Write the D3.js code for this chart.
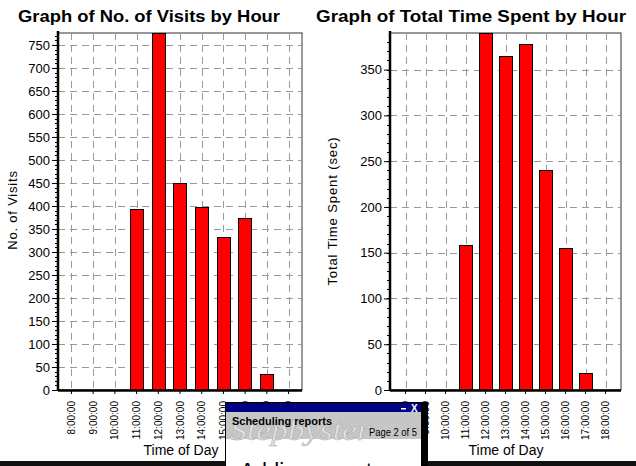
<!DOCTYPE html>
<html><head><meta charset="utf-8">
<script src="https://cdn.jsdelivr.net/npm/d3@7"></script>
<style>
html,body{margin:0;padding:0;background:#fff;}
svg{display:block;font-family:Arial,"Liberation Sans",sans-serif;}
</style></head>
<body>
<svg id="c" width="636" height="466"></svg>
<script>
const hours = ["8:00:00","9:00:00","10:00:00","11:00:00","12:00:00","13:00:00","14:00:00","15:00:00","16:00:00","17:00:00","18:00:00"];
const visits = [0,0,0,393,790,450,398,333,374,34,0];
const timeSpent = [0,0,0,158,395,365,378,240,155,19,0];
const visitTicks = [0,50,100,150,200,250,300,350,400,450,500,550,600,650,700,750];
const timeTicks = [0,50,100,150,200,250,300,350];

const svg = d3.select("#c");

function chart(cfg){
  const g = svg.append("g");
  const x = d3.scaleBand().domain(hours).range([cfg.left,cfg.right])
      .paddingInner(cfg.pi).paddingOuter(cfg.po);
  const y = d3.scaleLinear().domain([0,cfg.ymax]).range([cfg.bottom,cfg.top]).clamp(true);
  g.append("rect").attr("x",cfg.left).attr("y",cfg.top)
    .attr("width",cfg.right-cfg.left).attr("height",cfg.bottom-cfg.top)
    .attr("fill","#fff").attr("stroke","#333").attr("stroke-width",1);
  g.selectAll(".hg").data(cfg.ticks.filter(d=>d>0)).enter().append("line")
    .attr("x1",cfg.left).attr("x2",cfg.right)
    .attr("y1",d=>Math.round(y(d))+0.5).attr("y2",d=>Math.round(y(d))+0.5)
    .attr("stroke","#999").attr("stroke-dasharray","7,5");
  g.selectAll(".vg").data(hours).enter().append("line")
    .attr("x1",d=>Math.round(x(d)+x.bandwidth()/2)+0.5).attr("x2",d=>Math.round(x(d)+x.bandwidth()/2)+0.5)
    .attr("y1",cfg.top).attr("y2",cfg.bottom)
    .attr("stroke","#999").attr("stroke-dasharray","7,5");
  g.selectAll(".bar").data(cfg.values).enter().append("rect")
    .attr("x",(d,i)=>Math.round(x(hours[i]))+0.5)
    .attr("y",d=>Math.round(y(d))+0.5)
    .attr("width",Math.round(x.bandwidth()))
    .attr("height",d=>Math.max(0,Math.round(cfg.bottom-y(d))))
    .attr("fill","#ff0000").attr("stroke","#000").attr("stroke-width",1)
    .style("display",d=>d>0?null:"none");
  const ya = d3.axisLeft(y).tickValues(cfg.ticks).tickSize(6).tickPadding(2).tickFormat(d3.format("d"));
  const yg = g.append("g").attr("transform",`translate(${cfg.left},0)`).call(ya);
  yg.select(".domain").remove();
  yg.selectAll("text").attr("font-size",13).attr("fill","#000").attr("font-family","Arial, 'Liberation Sans', sans-serif");
  yg.selectAll("line").attr("stroke","#000");
  g.selectAll(".mt").data(d3.range(0,cfg.ymax,10)).enter().append("line")
    .attr("x1",cfg.left-3).attr("x2",cfg.left)
    .attr("y1",d=>Math.round(y(d))+0.5).attr("y2",d=>Math.round(y(d))+0.5)
    .attr("stroke","#000");
  g.append("line").attr("x1",cfg.left).attr("x2",cfg.left).attr("y1",cfg.top-2).attr("y2",cfg.bottom+1)
    .attr("stroke","#000").attr("stroke-width",2.5);
  g.append("line").attr("x1",cfg.left).attr("x2",cfg.right).attr("y1",cfg.bottom+0.5).attr("y2",cfg.bottom+0.5)
    .attr("stroke","#000").attr("stroke-width",2.5);
  const xa = d3.axisBottom(x).tickSize(3).tickPadding(0);
  const xg = g.append("g").attr("transform",`translate(0,${cfg.bottom+1})`).call(xa);
  xg.select(".domain").remove();
  xg.selectAll("line").attr("stroke","#000");
  xg.selectAll("text")
    .attr("font-size",10).attr("fill","#000")
    .attr("text-anchor","end").attr("dy","0.35em")
    .attr("transform","translate(0,10) rotate(-90)")
    .attr("x",0).attr("y",0);
  g.append("text").attr("x",cfg.titleX).attr("y",22).attr("font-size",17).attr("font-weight","bold")
    .attr("textLength",cfg.titleLen).attr("lengthAdjust","spacingAndGlyphs")
    .text(cfg.title);
  g.append("text").attr("x",cfg.xlabX).attr("y",455).attr("text-anchor","middle").attr("font-size",14)
    .text("Time of Day");
  g.append("text").attr("transform",`translate(${cfg.ylabX},${cfg.ylabY}) rotate(-90)`)
    .attr("text-anchor","middle").attr("font-size",cfg.ylabSize).attr("letter-spacing",cfg.ylabLs)
    .text(cfg.ylab);
}

chart({left:58,right:302,top:33,bottom:390,pi:0.38,po:0.31,ymax:776,values:visits,ticks:visitTicks,
  title:"Graph of No. of Visits by Hour",titleX:18,titleLen:262,xlabX:181,ylab:"No. of Visits",ylabX:17,ylabY:210,ylabSize:13,ylabLs:0.8});
chart({left:390,right:621,top:33,bottom:390,pi:0.35,po:0.45,ymax:390,values:timeSpent,ticks:timeTicks,
  title:"Graph of Total Time Spent by Hour",titleX:316,titleLen:310,xlabX:506,ylab:"Total Time Spent (sec)",ylabX:337,ylabY:211,ylabSize:13,ylabLs:0.9});

svg.append("rect").attr("x",0).attr("y",461).attr("width",636).attr("height",5).attr("fill","#111");

const w = svg.append("g");
w.append("rect").attr("x",225).attr("y",402).attr("width",203).attr("height",64).attr("fill","#000");
w.append("rect").attr("x",226).attr("y",403).attr("width",195).attr("height",63).attr("fill","#fff");
w.append("rect").attr("x",226).attr("y",403).attr("width",195).attr("height",9).attr("fill","#000080");
w.append("rect").attr("x",401).attr("y",408).attr("width",5).attr("height",1.5).attr("fill","#fff");
w.append("text").attr("x",411).attr("y",411.5).attr("fill","#fff").attr("font-size",10).attr("font-weight","bold").text("X");
w.append("rect").attr("x",226).attr("y",412).attr("width",195).attr("height",27).attr("fill","#c6c6c6");
w.append("text").attr("x",230).attr("y",440).attr("font-size",30).attr("font-style","italic")
  .attr("font-family","'Liberation Serif','DejaVu Serif',serif").attr("fill","#e4e4e4").attr("stroke","#b0b0b0").attr("stroke-width",0.6)
  .attr("textLength",140).attr("lengthAdjust","spacingAndGlyphs").text("Stepbyster");
w.append("text").attr("x",232).attr("y",425).attr("font-size",11).attr("font-weight","bold").attr("fill","#000")
  .attr("textLength",100).attr("lengthAdjust","spacingAndGlyphs").text("Scheduling reports");
w.append("text").attr("x",369).attr("y",436).attr("font-size",10).attr("fill","#000")
  .attr("textLength",48).attr("lengthAdjust","spacingAndGlyphs").text("Page 2 of 5");
w.append("text").attr("x",240).attr("y",478).attr("font-size",22).attr("fill","#000").text("Adding reports");
</script>
</body></html>
